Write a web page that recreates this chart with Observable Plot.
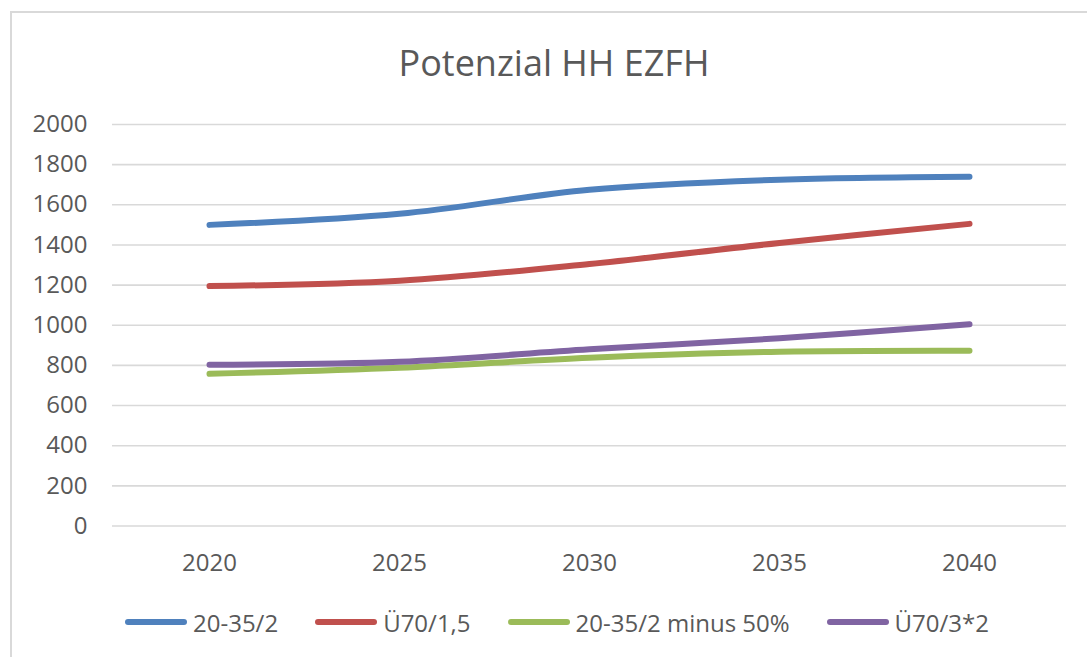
<!DOCTYPE html>
<html><head><meta charset="utf-8">
<script src="https://cdn.jsdelivr.net/npm/d3@7"></script>
<script src="https://cdn.jsdelivr.net/npm/@observablehq/plot@0.6"></script>
<style>
html,body{margin:0;padding:0;background:#fff;overflow:hidden;width:1087px;height:657px;position:relative;}
#frame{position:absolute;left:10px;top:11px;width:1110px;height:700px;border:2px solid #d9d9d9;box-sizing:border-box;}
#title{position:absolute;left:0;width:1108px;top:45px;line-height:36px;text-align:center;font-family:"Open Sans";font-size:36px;color:#595959;white-space:nowrap;}
#chart{position:absolute;left:0;top:0;}
#legend{position:absolute;left:125px;top:607px;height:30px;display:flex;align-items:center;gap:37px;font-family:"Open Sans";font-size:24px;color:#595959;white-space:nowrap;}
.item{display:flex;align-items:center;}
.sw{width:62px;height:6px;border-radius:3px;margin-right:6px;}
</style>
</head><body>
<div id="frame"></div>
<div id="title">Potenzial HH EZFH</div>
<div id="chart"></div>
<div id="legend"></div>
<script>
const years = ["2020", "2025", "2030", "2035", "2040"];
const seriesNames = ["20-35/2", "Ü70/1,5", "20-35/2 minus 50%", "Ü70/3*2"];
const seriesColors = ["#4F81BD", "#C0504D", "#9BBB59", "#8064A2"];
const s1 = [1500, 1555, 1675, 1725, 1740];
const s2 = [1195, 1222, 1305, 1410, 1505];
const s3 = [758, 788, 838, 868, 873];
const s4 = [803, 818, 880, 935, 1005];
const yTicks = [0, 200, 400, 600, 800, 1000, 1200, 1400, 1600, 1800, 2000];

const seriesValues = [s1, s2, s3, s4];
const data = [];
seriesNames.forEach((name, i) => {
  years.forEach((yr, j) => data.push({series: name, year: yr, value: seriesValues[i][j]}));
});

const chart = Plot.plot({
  width: 1087,
  height: 590,
  marginLeft: 112,
  marginRight: 21,
  marginTop: 124,
  marginBottom: 64.5,
  style: {fontFamily: "Open Sans", fontSize: "24px", color: "#595959", background: "transparent", overflow: "visible"},
  x: {type: "point", domain: years, padding: 0.5, label: null},
  y: {domain: [0, 2000], label: null},
  color: {domain: seriesNames, range: seriesColors},
  marks: [
    Plot.gridY(yTicks, {stroke: "#d9d9d9", strokeOpacity: 1, strokeWidth: 1.6}),
    Plot.axisY({ticks: yTicks, tickFormat: d => String(d), tickSize: 0, tickPadding: 25, label: null, fill: "#595959", fontSize: 24}),
    Plot.axisX({tickSize: 0, tickPadding: 27.5, label: null, fill: "#595959", fontSize: 24}),
    Plot.line(data, {x: "year", y: "value", z: "series", stroke: "series", strokeWidth: 6, curve: "catmull-rom", strokeLinecap: "round", strokeLinejoin: "round"})
  ]
});
document.getElementById("chart").appendChild(chart);

const legend = document.getElementById("legend");
seriesNames.forEach((name, i) => {
  const it = document.createElement("div");
  it.className = "item";
  const sw = document.createElement("div");
  sw.className = "sw";
  sw.style.background = seriesColors[i];
  const tx = document.createElement("span");
  tx.textContent = name;
  it.appendChild(sw);
  it.appendChild(tx);
  legend.appendChild(it);
});
</script>
</body></html>
